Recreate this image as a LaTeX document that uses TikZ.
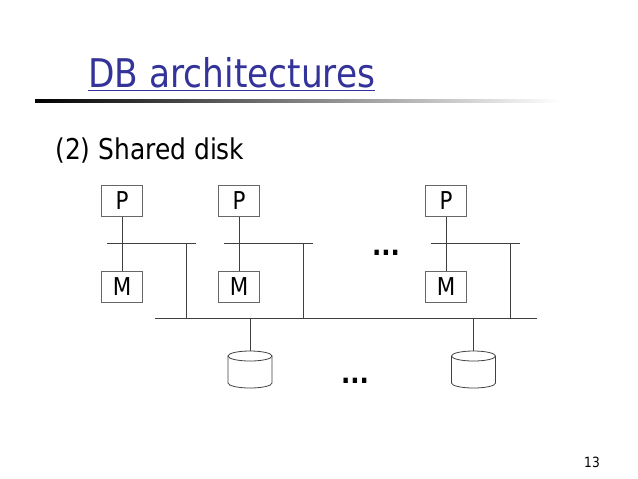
\documentclass[tikz,border=0pt]{standalone}
\usepackage{fontspec}
\setmainfont{DejaVu Sans}[FakeStretch=0.87]
\definecolor{titoloBlu}{HTML}{333399}

\newcommand{\discocilindro}[2]{%
	\begin{scope}[shift={(#1,#2)}]
		% Corpo del disco: lati, fondo curvo e coperchio ellittico.
		\fill[white] (-22,0) -- (-22,27) arc[start angle=180,end angle=0,x radius=22,y radius=5] -- (22,0) -- cycle;
		\draw[linea] (-22,0) -- (-22,27) arc[start angle=180,end angle=0,x radius=22,y radius=5] -- (22,0);
		\draw[linea,fill=white] (0,0) ellipse[x radius=22,y radius=5];
	\end{scope}%
}

\begin{document}
\begin{tikzpicture}[x=0.02cm,y=-0.02cm,
  casella/.style={draw=black!60,line width=0.55pt,minimum width=23.8pt,minimum height=18.1pt,
    inner sep=0pt,font=\fontsize{14}{16}\selectfont},
  linea/.style={draw=black!75,line width=0.45pt},
  puntini/.style={font=\fontsize{16}{18}\selectfont\bfseries,inner sep=0pt}]
  \useasboundingbox (0,0) rectangle (638,478);
  % Titolo sottolineato e filetto sfumato sotto di esso.
  \node[anchor=base west,inner sep=0pt,text=titoloBlu,font=\fontsize{22.5}{26}\selectfont]
    (titolo) at (88,87) {\underline{DB architectures}};
  \shade[left color=black,right color=white] (35,99) rectangle (560,102);
  \node[anchor=base west,inner sep=0pt,font=\fontsize{16.3}{19}\selectfont]
    (sottotitolo) at (55,159) {(2) Shared disk};
  % Ogni nodo: processore, memoria e bus locale collegato al bus dei dischi.
  \coordinate (busS) at (155,318);
  \coordinate (busE) at (537,318);
  \draw[linea] (busS) -- (busE);
  \foreach \i/\cx in {1/122,2/239,3/446}{
    \node[casella] (P\i) at (\cx,201) {P};
    \node[casella] (M\i) at (\cx,287) {M};
    \coordinate (locS\i) at (\cx-15,243);
    \coordinate (locE\i) at (\cx+74,243);
    \coordinate (locG\i) at (\cx+64,243);
    \draw[linea] (P\i) -- (M\i);
    \draw[linea] (locS\i) -- (locE\i);
    \draw[linea] (locG\i) -- (locG\i |- busS);
  }
  % Dischi condivisi appesi al bus.
  \foreach \j/\dx in {1/250,2/473.5}{
    \coordinate (D\j) at (\dx,356);
    \discocilindro{\dx}{356}
    \draw[linea] (D\j |- busS) -- ([yshift=5*0.02cm]D\j);
  }
  \node[puntini] (altriNodi) at (386,253) {...};
  \node[puntini] (altriDischi) at (355,381) {...};
  \node[font=\fontsize{8}{10}\selectfont,inner sep=0pt] (pagina) at (592,462) {13};
\end{tikzpicture}
\end{document}
